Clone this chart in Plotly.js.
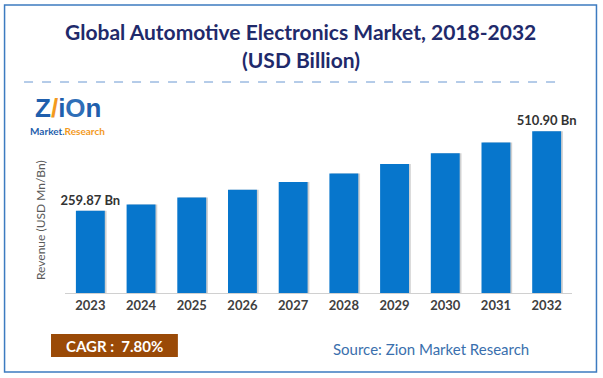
<!DOCTYPE html>
<html>
<head>
<meta charset="utf-8">
<script src="https://cdn.plot.ly/plotly-3.0.1.min.js"></script>
<style>
html,body{margin:0;padding:0;background:#fff;}
#chart{width:603px;height:378px;}
</style>
</head>
<body>
<div id="chart"></div>
<script>
const years = ["2023","2024","2025","2026","2027","2028","2029","2030","2031","2032"];
const revenue = [259.87, 280, 302, 326, 351, 378, 408, 442, 476, 510.90];
const barLabels = ["259.87 Bn","","","","","","","","","510.90 Bn"];
const titleLines = ["Global Automotive Electronics Market, 2018-2032", "(USD Billion)"];
const yTitle = "Revenue (USD Mn/Bn)";
const cagrText = "CAGR :  7.80%";
const sourceText = "Source: Zion Market Research";

const W = 603, H = 378;
const M = {l: 65, r: 30.5, t: 100, b: 85};
const PW = W - M.l - M.r, PH = H - M.t - M.b;
const px = x => (x - M.l) / PW;
const py = y => (H - M.b - y) / PH;

const trace = {
  type: 'bar',
  x: years,
  y: revenue,
  text: barLabels,
  textposition: 'outside',
  constraintext: 'none',
  cliponaxis: false,
  textfont: {family: 'Lato, sans-serif', size: 13, color: '#333333', weight: 'bold'},
  marker: {color: '#0776CC', line: {width: 0}},
  width: 0.57,
  hoverinfo: 'skip'
};

const shadow = {
  type: 'bar',
  x: years,
  y: revenue,
  marker: {color: 'rgba(120,120,120,0.35)'},
  width: 0.57,
  offset: -0.25,
  hoverinfo: 'skip',
  showlegend: false
};

const layout = {
  width: W, height: H,
  margin: M,
  paper_bgcolor: '#ffffff',
  plot_bgcolor: '#ffffff',
  showlegend: false,
  barmode: 'overlay',
  font: {family: 'Lato, sans-serif'},
  xaxis: {
    type: 'category',
    range: [-0.5, 9.5],
    showgrid: false,
    showline: true,
    linecolor: '#D0D0D0',
    linewidth: 1,
    ticks: '',
    tickfont: {family: 'Lato, sans-serif', size: 13, color: '#404040', weight: 'bold'},
    fixedrange: true
  },
  yaxis: {
    range: [0, 610],
    showgrid: false,
    zeroline: false,
    showline: false,
    showticklabels: false,
    ticks: '',
    fixedrange: true
  },
  annotations: [
    {xref: 'paper', yref: 'paper', x: px(301), y: py(31), text: '<b>' + titleLines[0] + '</b>', showarrow: false,
     font: {family: 'Lato, sans-serif', size: 21, color: '#1F2A6B'}, xanchor: 'center', yanchor: 'middle'},
    {xref: 'paper', yref: 'paper', x: px(301), y: py(60), text: '<b>' + titleLines[1] + '</b>', showarrow: false,
     font: {family: 'Lato, sans-serif', size: 21, color: '#1F2A6B'}, xanchor: 'center', yanchor: 'middle'},
    {xref: 'paper', yref: 'paper', x: px(40), y: py(220), text: yTitle, showarrow: false, textangle: -90,
     font: {family: 'Lato, sans-serif', size: 12, color: '#595959'}, xanchor: 'center', yanchor: 'middle'},
    {xref: 'paper', yref: 'paper', x: px(68), y: py(108), text: '<b>Z<span style="color:#F39A1E">/</span>i<span style="color:#2F6FB8">O</span>n</b>', showarrow: false,
     font: {family: 'Liberation Sans, Arial, sans-serif', size: 26, color: '#1F5FAD'}, xanchor: 'center', yanchor: 'middle'},
    {xref: 'paper', yref: 'paper', x: px(68), y: py(131), text: '<b>Market.<span style="color:#F39A1E">Research</span></b>', showarrow: false,
     font: {family: 'Lato, sans-serif', size: 10, color: '#1F5FAD'}, xanchor: 'center', yanchor: 'middle'},
    {xref: 'paper', yref: 'paper', x: px(114.5), y: py(346), text: '<b>' + cagrText + '</b>', showarrow: false,
     font: {family: 'Lato, sans-serif', size: 15, color: '#ffffff'}, xanchor: 'center', yanchor: 'middle'},
    {xref: 'paper', yref: 'paper', x: px(431), y: py(349), text: sourceText, showarrow: false,
     font: {family: 'Lato, sans-serif', size: 15, color: '#3A6FAD'}, xanchor: 'center', yanchor: 'middle'}
  ],
  shapes: [
    {type: 'rect', xref: 'paper', yref: 'paper', x0: px(4.5), x1: px(597), y0: py(5), y1: py(372),
     line: {color: '#3C7BC0', width: 1.5}, fillcolor: 'rgba(0,0,0,0)'},
    {type: 'line', xref: 'paper', yref: 'paper', x0: px(24), x1: px(560), y0: py(82), y1: py(82),
     line: {color: '#6A98D2', width: 1, dash: 'dash'}},
    {type: 'rect', xref: 'paper', yref: 'paper', x0: px(51), x1: px(178), y0: py(334), y1: py(357),
     line: {width: 0}, fillcolor: '#9A4A07', layer: 'below'}
  ]
};

Plotly.newPlot('chart', [shadow, trace], layout, {staticPlot: true, displayModeBar: false});
</script>
</body>
</html>
